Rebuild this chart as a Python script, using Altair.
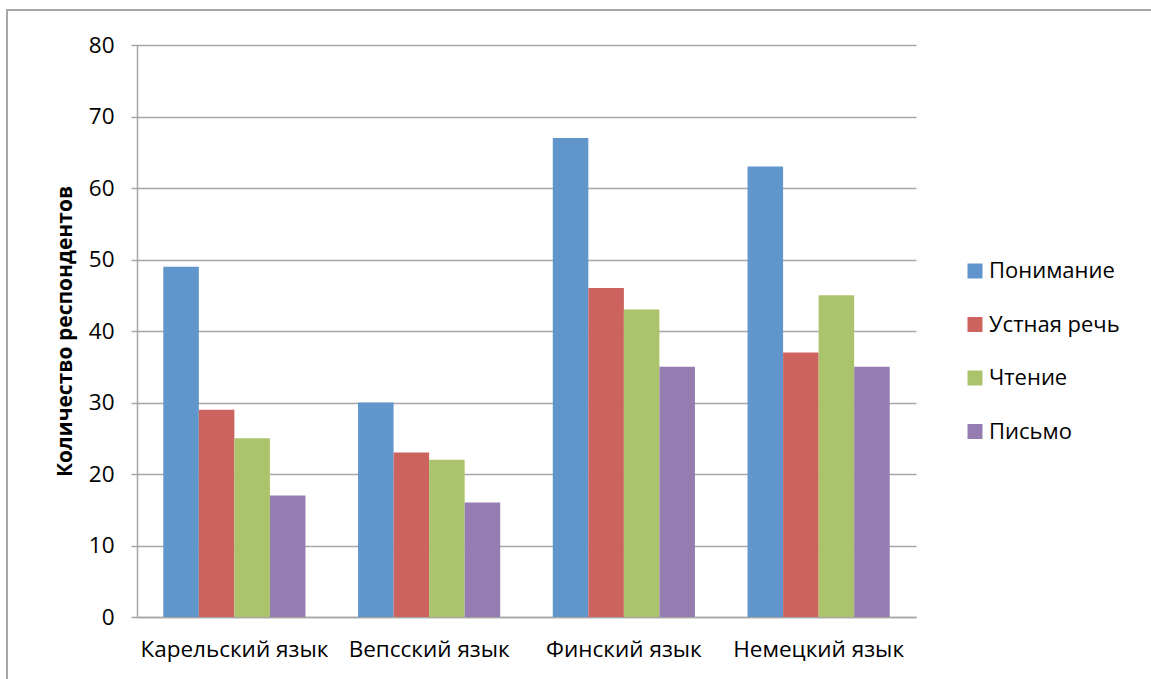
import altair as alt
import pandas as pd

# Survey counts by language and skill
languages = ["Карельский язык", "Вепсский язык", "Финский язык", "Немецкий язык"]
skills = ["Понимание", "Устная речь", "Чтение", "Письмо"]
understanding = [49, 30, 67, 63]
speaking = [29, 23, 46, 37]
reading = [25, 22, 43, 45]
writing = [17, 16, 35, 35]
colors = ["#6096CB", "#CD635F", "#ABC46B", "#957CB1"]

rows = []
for series_name, values in zip(skills, [understanding, speaking, reading, writing]):
    for lang, v in zip(languages, values):
        rows.append({"lang": lang, "skill": series_name, "value": v})
df = pd.DataFrame(rows)

FONT = "Open Sans"
GRAY = "#A6A6A6"

bars = alt.Chart(df).mark_bar().encode(
    x=alt.X("lang:N", sort=languages, title=None,
            scale=alt.Scale(paddingInner=0.27, paddingOuter=0.135),
            axis=alt.Axis(labelAngle=0, ticks=False, labelPadding=21,
                          labelFontSize=22.5, labelLimit=400, labelOverlap=False,
                          domainColor=GRAY, domainWidth=1.5)),
    xOffset=alt.XOffset("skill:N", sort=skills, scale=alt.Scale(paddingInner=0, paddingOuter=0)),
    y=alt.Y("value:Q", title="Количество респондентов",
            scale=alt.Scale(domain=[0, 80]),
            axis=alt.Axis(values=list(range(0, 81, 10)), tickSize=6, tickColor=GRAY,
                          tickWidth=1.5, domainColor=GRAY, domainWidth=1.5,
                          gridColor=GRAY, gridWidth=1.5, labelFontSize=22.5,
                          labelPadding=17, titleFontSize=21, titleFontWeight="bold",
                          titlePadding=13)),
    color=alt.Color("skill:N", sort=skills,
                    scale=alt.Scale(domain=skills, range=colors),
                    legend=alt.Legend(title=None, orient="none", legendX=827, legendY=215,
                                      symbolType="square", symbolSize=225,
                                      symbolStrokeWidth=0, labelFontSize=22,
                                      labelLimit=300, rowPadding=31.5, labelOffset=3)),
)

# Outer frame around the chart
frame = alt.Chart(alt.Data(values=[{"k": 1}])).mark_rect(
    fill=None, stroke=GRAY, strokeWidth=2
).encode(
    x=alt.value(-130), x2=alt.value(1300), y=alt.value(-35), y2=alt.value(900)
)

chart = alt.layer(bars, frame).properties(
    width=779, height=572,
    autosize=alt.AutoSizeParams(type="none"),
    padding={"left": 137, "top": 45, "right": 235, "bottom": 62},
).configure(font=FONT).configure_view(stroke=None).configure_axis(
    labelColor="black", titleColor="black", labelFont=FONT, titleFont=FONT
).configure_legend(labelFont=FONT, labelColor="black")

chart.save("out.html", embed_options={"renderer": "svg", "actions": False})
